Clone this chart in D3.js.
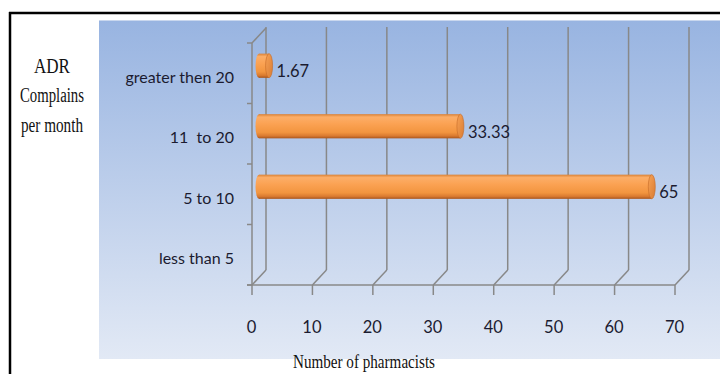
<!DOCTYPE html>
<html>
<head>
<meta charset="utf-8">
<script src="https://cdn.jsdelivr.net/npm/d3@7"></script>
<style>
  html, body { margin: 0; padding: 0; background: #fff; }
  svg { display: block; }
  .cat-label { white-space: pre; }
</style>
</head>
<body>
<svg id="chart" width="720" height="374"></svg>
<script>
// Categories listed top to bottom as they appear on the vertical axis
const categories = ["greater then 20", "11  to 20", "5 to 10", "less than 5"];
const values = [1.67, 33.33, 65, null];
const valueLabels = ["1.67", "33.33", "65", ""];
const xTicks = [0, 10, 20, 30, 40, 50, 60, 70];
const yTitleLines = ["ADR", "Complains", "per month"];
const xTitle = "Number of pharmacists";

const svg = d3.select("#chart");
const W = 720, H = 374;

// plot geometry
const x = d3.scaleLinear().domain([0, 70]).range([252, 675]);
const y = d3.scaleBand().domain(categories).range([43, 285]).padding(0);
const depth = { dx: 14, dy: -15 };
const floorY = y.range()[1];
const gridColor = "#888888";
const sansFont = "Lato, 'Liberation Sans', sans-serif";
const serifFont = "'Liberation Serif', 'DejaVu Serif', serif";

const defs = svg.append("defs");

// background wash of the chart area
const bg = defs.append("linearGradient").attr("id", "bgGrad")
  .attr("x1", 0).attr("y1", 0).attr("x2", 0).attr("y2", 1);
bg.append("stop").attr("offset", "0%").attr("stop-color", "#98b4e1");
bg.append("stop").attr("offset", "100%").attr("stop-color", "#e2e9f5");

// cylinder body shading
const cyl = defs.append("linearGradient").attr("id", "cylGrad")
  .attr("x1", 0).attr("y1", 0).attr("x2", 0).attr("y2", 1);
[["0%", "#d98238"], ["12%", "#fcae68"], ["40%", "#fba253"], ["75%", "#f2953f"], ["90%", "#d97a30"], ["100%", "#a9551c"]]
  .forEach(([o, c]) => cyl.append("stop").attr("offset", o).attr("stop-color", c));

const cap = defs.append("linearGradient").attr("id", "capGrad")
  .attr("x1", 0).attr("y1", 0).attr("x2", 1).attr("y2", 1);
cap.append("stop").attr("offset", "0%").attr("stop-color", "#f7a256");
cap.append("stop").attr("offset", "100%").attr("stop-color", "#d97c33");

// outer frame: top and left rules
svg.append("line").attr("x1", 9).attr("x2", W).attr("y1", 13).attr("y2", 13)
  .attr("stroke", "#000").attr("stroke-width", 2.5);
svg.append("line").attr("x1", 10).attr("x2", 10).attr("y1", 12).attr("y2", H)
  .attr("stroke", "#000").attr("stroke-width", 2.5);

// chart area background
svg.append("rect").attr("x", 99).attr("y", 20).attr("width", W - 99).attr("height", 339)
  .attr("fill", "url(#bgGrad)");
svg.append("line").attr("x1", 99).attr("x2", W).attr("y1", 20.5).attr("y2", 20.5)
  .attr("stroke", "#c9d7ee").attr("stroke-width", 1);

const grid = svg.append("g").attr("stroke", gridColor).attr("stroke-width", 1.5).attr("fill", "none");

// back wall verticals and floor diagonals
const backTop = 27;
xTicks.forEach(t => {
  const fx = x(t), bx = x(t) + depth.dx;
  grid.append("line").attr("x1", bx).attr("x2", bx).attr("y1", backTop).attr("y2", floorY + depth.dy);
  grid.append("line").attr("x1", fx).attr("x2", bx).attr("y1", floorY).attr("y2", floorY + depth.dy);
  // tick mark below the floor
  grid.append("line").attr("x1", fx).attr("x2", fx).attr("y1", floorY).attr("y2", floorY + 10);
});

// floor front edge
grid.append("line").attr("x1", x(0) - 5).attr("x2", x(70)).attr("y1", floorY).attr("y2", floorY);

// left wall front edge and its top diagonal
grid.append("line").attr("x1", x(0)).attr("x2", x(0)).attr("y1", y.range()[0]).attr("y2", floorY);
grid.append("line").attr("x1", x(0)).attr("x2", x(0) + depth.dx)
  .attr("y1", y.range()[0]).attr("y2", y.range()[0] + depth.dy);

// category boundary ticks on the vertical axis
const bounds = categories.map(c => y(c)).concat([floorY]);
bounds.forEach(b => {
  grid.append("line").attr("x1", x(0) - 5).attr("x2", x(0)).attr("y1", b).attr("y2", b);
});

// cylinders, placed at mid depth
const barH = y.bandwidth() * 0.4;
const rx = 3.5;
const bars = svg.append("g");
categories.forEach((c, i) => {
  const v = values[i];
  if (v == null) return;
  const cy = y(c) + y.bandwidth() / 2 + depth.dy / 2;
  const x0 = x(0) + depth.dx / 2;
  const x1 = x(v) + depth.dx / 2;
  const g = bars.append("g");
  g.append("ellipse").attr("cx", x0).attr("cy", cy).attr("rx", rx).attr("ry", barH / 2)
    .attr("fill", "url(#cylGrad)");
  g.append("rect").attr("x", x0).attr("y", cy - barH / 2).attr("width", x1 - x0).attr("height", barH)
    .attr("fill", "url(#cylGrad)");
  g.append("ellipse").attr("cx", x1).attr("cy", cy).attr("rx", rx).attr("ry", barH / 2)
    .attr("fill", "url(#capGrad)").attr("stroke", "#c46a27").attr("stroke-width", 0.6);
});

// value labels
const labels = svg.append("g").attr("font-family", sansFont).attr("font-size", 16.5).attr("fill", "#1b1b30");
categories.forEach((c, i) => {
  const v = values[i];
  if (v == null) return;
  labels.append("text")
    .attr("x", x(v) + depth.dx / 2 + rx + 4)
    .attr("y", y(c) + y.bandwidth() / 2 - 2)
    .attr("dominant-baseline", "central")
    .text(valueLabels[i]);
});

// category labels (whitespace kept as written)
const catG = svg.append("g").attr("font-family", sansFont).attr("font-size", 16).attr("fill", "#1b1b30")
  .attr("text-anchor", "end");
categories.forEach(c => {
  catG.append("text").attr("class", "cat-label").attr("xml:space", "preserve")
    .attr("x", 234).attr("y", y(c) + y.bandwidth() / 2 + 3)
    .attr("dominant-baseline", "central").text(c);
});

// x tick labels
const xAxis = d3.axisBottom(x).tickValues(xTicks).tickSize(0).tickPadding(0);
const xg = svg.append("g").attr("transform", `translate(0, 327)`).call(xAxis);
xg.select(".domain").remove();
xg.selectAll("text").attr("font-family", sansFont).attr("font-size", 16.5).attr("fill", "#1b1b30")
  .attr("dy", null).attr("dominant-baseline", "central").attr("dx", -1);

// vertical axis title, condensed serif
const yTitleBaselines = [73, 102, 132];
const yTitleWidths = [36, 64, 62];
yTitleLines.forEach((t, i) => {
  svg.append("text").attr("x", 52).attr("y", yTitleBaselines[i])
    .attr("text-anchor", "middle").attr("font-family", serifFont).attr("font-size", 20)
    .attr("fill", "#111")
    .attr("textLength", yTitleWidths[i]).attr("lengthAdjust", "spacingAndGlyphs")
    .text(t);
});

// horizontal axis title
svg.append("text").attr("x", 364).attr("y", 368).attr("text-anchor", "middle")
  .attr("font-family", serifFont).attr("font-size", 19).attr("fill", "#111")
  .attr("textLength", 142).attr("lengthAdjust", "spacingAndGlyphs")
  .text(xTitle);
</script>
</body>
</html>
